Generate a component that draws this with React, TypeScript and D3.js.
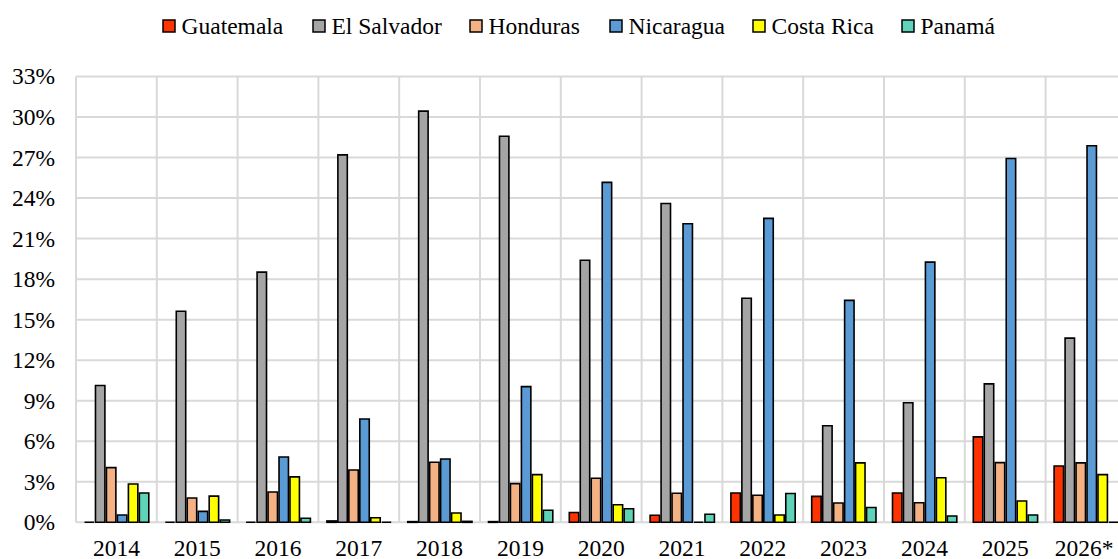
import React from "react";
import * as d3 from "d3";

const years = ["2014","2015","2016","2017","2018","2019","2020","2021","2022","2023","2024","2025","2026*"];
const seriesNames = ["Guatemala","El Salvador","Honduras","Nicaragua","Costa Rica","Panamá"];
const colors = ["#FF3300","#A5A5A5","#F4B183","#5B9BD5","#FFFF00","#5FD3B8"];
const guatemala = [0,0,0,0.1,0.05,0.05,0.72,0.52,2.17,1.92,2.17,6.32,4.17];
const elSalvador = [10.13,15.62,18.52,27.2,30.44,28.58,19.4,23.6,16.58,7.15,8.85,10.25,13.63];
const honduras = [4.05,1.8,2.24,3.87,4.45,2.86,3.26,2.15,2.0,1.43,1.45,4.42,4.4];
const nicaragua = [0.54,0.81,4.83,7.65,4.69,10.04,25.16,22.1,22.5,16.43,19.26,26.93,27.87];
const costaRica = [2.84,1.94,3.36,0.34,0.69,3.53,1.3,0,0.54,4.4,3.3,1.58,3.53];
const panama = [2.17,0.17,0.3,0,0.07,0.89,1.0,0.6,2.13,1.1,0.47,0.54,0];
const yTicks = [0,3,6,9,12,15,18,21,24,27,30,33];
const legendX = [163,313,470,610,753,902];

const allSeries = [guatemala, elSalvador, honduras, nicaragua, costaRica, panama];

export default function App() {
  const W = 1118, H = 559;
  const left = 76, step = 80.8;
  const x0 = d3.scaleBand<string>().domain(years).range([left, left + step * years.length]).padding(0);
  const x1 = d3.scaleBand<string>().domain(seriesNames).range([8.5, step - 8]).paddingInner(0.14);
  const y = d3.scaleLinear().domain([0, 33]).range([522.3, 76.5]);
  const font = "'Liberation Serif', 'Times New Roman', serif";
  const fs = 23.5;

  return (
    <svg width={W} height={H} style={{ position: "absolute", left: 0, top: 0, background: "#fff" }}>
      <rect x={0} y={0} width={W} height={H} fill="#fff" />
      {yTicks.map((t) => (
        <line key={"h" + t} x1={left} x2={left + step * years.length} y1={y(t)} y2={y(t)} stroke="#d9d9d9" strokeWidth={2} />
      ))}
      {d3.range(years.length + 1).map((i) => (
        <line key={"v" + i} x1={left + i * step} x2={left + i * step} y1={y(33)} y2={y(0)} stroke="#d9d9d9" strokeWidth={2} />
      ))}
      {allSeries.map((vals, si) =>
        vals.map((v, yi) => {
          const bx = (x0(years[yi]) as number) + (x1(seriesNames[si]) as number);
          const bw = x1.bandwidth();
          const y0 = y(0), y1v = y(v);
          const d = `M${bx},${y0}H${bx + bw}V${y1v}H${bx}Z`;
          return <path key={si + "-" + yi} d={d} fill={colors[si]} stroke="#000" strokeWidth={1.6} strokeLinejoin="miter" />;
        })
      )}
      {yTicks.map((t) => (
        <text key={"yl" + t} x={55} y={y(t)} dy="0.34em" textAnchor="end" fontFamily={font} fontSize={fs} fill="#000">
          {t + "%"}
        </text>
      ))}
      {years.map((yr) => (
        <text key={"xl" + yr} x={(x0(yr) as number) + step / 2 + (yr.endsWith("*") ? -2 : 0)} y={555.5} textAnchor="middle" fontFamily={font} fontSize={fs} fill="#000">
          {yr}
        </text>
      ))}
      {seriesNames.map((n, i) => (
        <g key={"lg" + n}>
          <rect x={legendX[i]} y={20} width={12} height={12} fill={colors[i]} stroke="#000" strokeWidth={1.5} />
          <text x={legendX[i] + 18.5} y={34} fontFamily={font} fontSize={fs} fill="#000">{n}</text>
        </g>
      ))}
    </svg>
  );
}
